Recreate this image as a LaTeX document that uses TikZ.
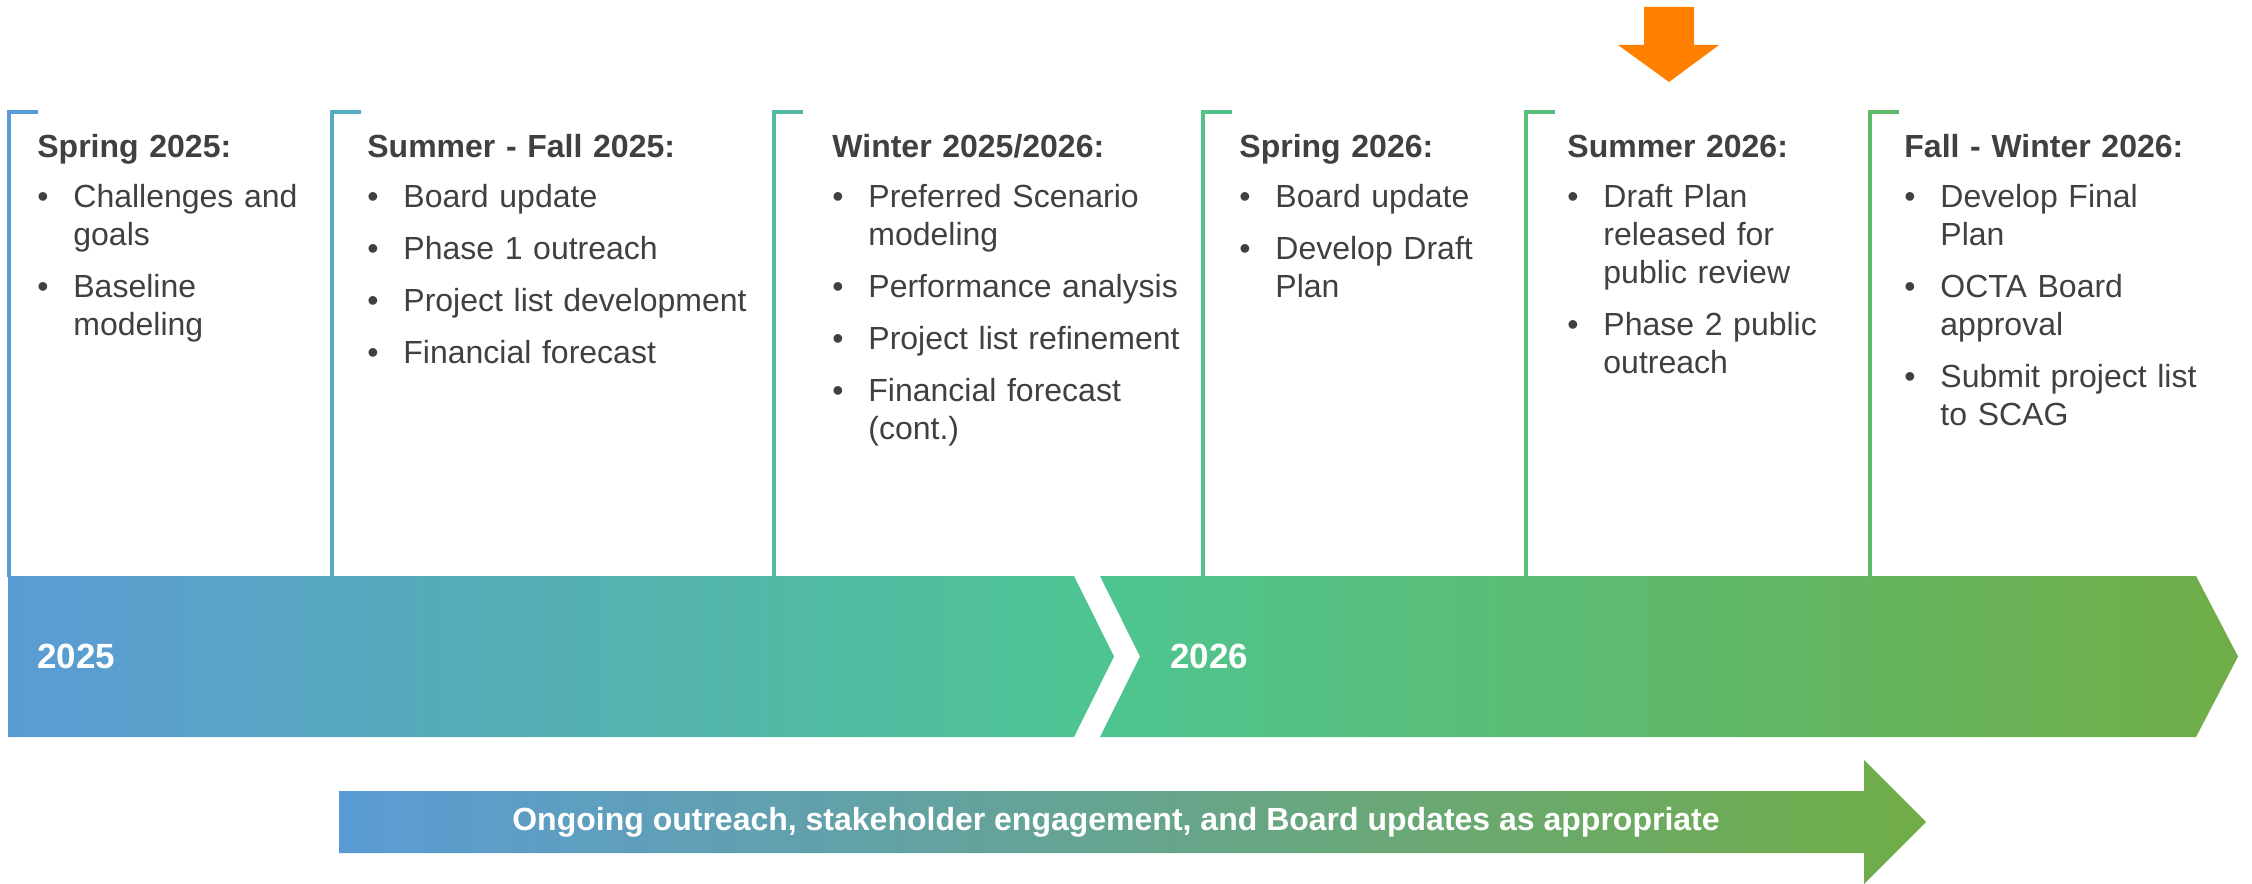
\documentclass[tikz,border=0pt]{standalone}
\usepackage{fontspec}
\setmainfont{Liberation Sans}
\usepackage{tikz}
\usetikzlibrary{positioning}

\definecolor{tlblue}{HTML}{5B9BD5}
\definecolor{tlgreen}{HTML}{4EC591}
\definecolor{tlolive}{HTML}{70AD47}
\definecolor{tlorange}{HTML}{FF8000}
\definecolor{tltext}{HTML}{404040}

\hyphenpenalty=10000
\exhyphenpenalty=10000

\newcommand{\phasehead}[1]{\noindent\rule{0pt}{14pt}\textbf{#1}\par}
\newenvironment{phaselist}{%
  \begin{list}{\textbullet}{%
    \setlength{\leftmargin}{18pt}\setlength{\labelwidth}{18pt}%
    \setlength{\labelsep}{0pt}\setlength{\itemsep}{7pt}%
    \setlength{\parsep}{0pt}\setlength{\topsep}{6pt}%
    \setlength{\partopsep}{0pt}\setlength{\parskip}{0pt}%
    \renewcommand{\makelabel}[1]{##1\hfil}}}%
  {\end{list}}

\tikzset{
  phase/.style={anchor=north west, inner sep=0pt, align=left, text=tltext,
                font=\fontsize{16pt}{19pt}\selectfont},
  bracket/.style={draw=#1, line width=1.75pt, line join=miter},
  yearlabel/.style={anchor=west, inner sep=0pt, text=white,
                    font=\fontsize{17.5pt}{20pt}\selectfont\bfseries},
  ongoing/.style={inner sep=0pt, text=white,
                  font=\fontsize{16pt}{19pt}\selectfont\bfseries}
}

\begin{document}
\begin{tikzpicture}[x=0.5pt,y=-0.5pt]
\useasboundingbox (0,0) rectangle (2252,883);

% marker for the current phase
\fill[tlorange] (1644,7) -- (1694,7) -- (1694,45) -- (1719,45) -- (1669,82)
    -- (1618,45) -- (1644,45) -- cycle;

% the two year chevrons
\shade[left color=tlblue, right color=tlgreen] (8,576) -- (1074,576)
    -- (1114,656.5) -- (1074,737) -- (8,737) -- cycle;
\shade[left color=tlgreen, right color=tlolive] (1100,576) -- (2196,576)
    -- (2238,656.5) -- (2196,737) -- (1100,737) -- (1140,656.5) -- cycle;

\node[yearlabel] (y25) at (37,656.5) {2025};
\node[yearlabel] (y26) at (1170,656.5) {2026};

% bracket tops
\coordinate (b1) at (9,112);
\coordinate (b2) at (332,112);
\coordinate (b3) at (774,112);
\coordinate (b4) at (1203,112);
\coordinate (b5) at (1526,112);
\coordinate (b6) at (1870,112);

\begin{scope}
    \draw[bracket=tlblue] (b1 |- 0,577) -- (b1) -- ++(29,0);
    \draw[bracket=tlgreen!30!tlblue] (b2 |- 0,577) -- (b2) -- ++(29,0);
    \draw[bracket=tlgreen!72!tlblue] (b3 |- 0,577) -- (b3) -- ++(29,0);
    \draw[bracket=tlolive!8!tlgreen] (b4 |- 0,577) -- (b4) -- ++(29,0);
    \draw[bracket=tlolive!30!tlgreen] (b5 |- 0,577) -- (b5) -- ++(29,0);
    \draw[bracket=tlolive!55!tlgreen] (b6 |- 0,577) -- (b6) -- ++(29,0);
\end{scope}

% phases
\node[phase, text width=138pt] (s25) at (37,129) {\phasehead{Spring 2025:}
    \begin{phaselist}
    \item Challenges and goals
    \item Baseline modeling
    \end{phaselist}};
\node[phase, text width=195.5pt] (sf25) at (367,129) {\phasehead{Summer - Fall 2025:}
    \begin{phaselist}
    \item Board update
    \item Phase 1 outreach
    \item Project list development
    \item Financial forecast
    \end{phaselist}};
\node[phase, text width=180.5pt] (w25) at (832,129) {\phasehead{Winter 2025/2026:}
    \begin{phaselist}
    \item Preferred Scenario modeling
    \item Performance analysis
    \item Project list refinement
    \item Financial forecast (cont.)
    \end{phaselist}};
\node[phase, text width=130.5pt] (s26) at (1239,129) {\phasehead{Spring 2026:}
    \begin{phaselist}
    \item Board update
    \item Develop Draft Plan
    \end{phaselist}};
\node[phase, text width=135.5pt] (su26) at (1567,129) {\phasehead{Summer 2026:}
    \begin{phaselist}
    \item Draft Plan released for public review
    \item Phase 2 public outreach
    \end{phaselist}};
\node[phase, text width=148pt] (fw26) at (1904,129) {\phasehead{Fall - Winter 2026:}
    \begin{phaselist}
    \item Develop Final Plan
    \item OCTA Board approval
    \item Submit project list to SCAG
    \end{phaselist}};

% ongoing work arrow
\shade[left color=tlblue, middle color=tlgreen, right color=tlolive]
    (339,791) -- (1864,791) -- (1864,760) -- (1926,822) -- (1864,884)
    -- (1864,853) -- (339,853) -- cycle;
\node[ongoing] (note) at (1116,822)
    {Ongoing outreach, stakeholder engagement, and Board updates as appropriate};
\end{tikzpicture}
\end{document}
